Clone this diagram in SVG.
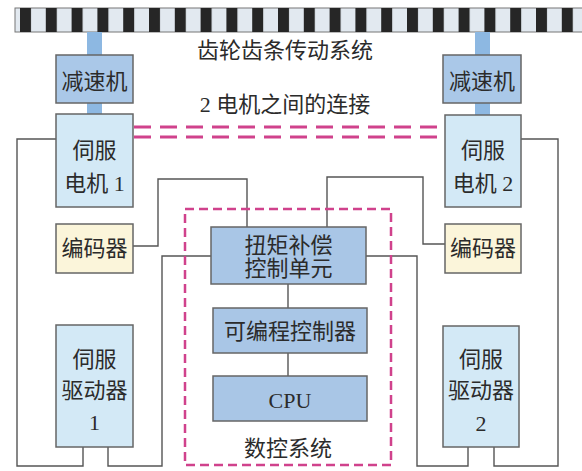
<svg xmlns="http://www.w3.org/2000/svg" width="582" height="471" viewBox="0 0 582 471">
<style>
  .t { font-family: "Liberation Serif", "Noto Sans CJK SC", serif; font-size: 22px; fill: #2b2b2b; text-anchor: middle; dominant-baseline: central; }
  .box { stroke: #666; stroke-width: 1.5; }
  .red { fill: #aac8e8; }
  .lt { fill: #d3e9f6; }
  .enc { fill: #fbf5da; }
  .nc { fill: #a9c6e6; }
  .shaft { fill: #8db8e2; }
  .w { fill: none; stroke: #555; stroke-width: 1.4; }
  .pk { fill: none; stroke: #d0428c; stroke-width: 3; stroke-dasharray: 17 9; }
  .pkb { fill: none; stroke: #d0428c; stroke-width: 2.5; stroke-dasharray: 9 5; }
</style>
<defs>
  <pattern id="teeth" patternUnits="userSpaceOnUse" x="20" y="8" width="25.8" height="24">
    <rect x="0" y="0" width="11" height="24" fill="#262626"/>
  </pattern>
</defs>
<rect width="582" height="471" fill="#ffffff"/>

<g id="rack">
  <rect x="15" y="8" width="570" height="24" fill="#e2e9f0" stroke="#777" stroke-width="1"/>
  <rect x="15" y="8" width="570" height="24" fill="url(#teeth)"/>
  <text class="t" x="285" y="50">齿轮齿条传动系统</text>
</g>

<g id="shafts">
  <rect class="shaft" x="87" y="32" width="15" height="24"/>
  <rect class="shaft" x="87" y="103" width="15" height="12"/>
  <rect class="shaft" x="475" y="32" width="15" height="24"/>
  <rect class="shaft" x="475" y="103" width="15" height="12"/>
</g>

<g id="connectors">
  <polyline class="w" points="56,139 17,139 17,466 83,466 83,447"/>
  <polyline class="w" points="108,447 108,466 162,466 162,256 211,256"/>
  <polyline class="w" points="133,246 158,246 158,179 247,179 247,227"/>
  <polyline class="w" points="327,227 327,177 423,177 423,244 445,244"/>
  <polyline class="w" points="521,139 558,139 558,466 494,466 494,447"/>
  <polyline class="w" points="468,447 468,466 417,466 417,256 366,256"/>
  <line class="w" x1="288" y1="284" x2="288" y2="308"/>
  <line class="w" x1="288" y1="353" x2="288" y2="376"/>
</g>

<g id="link">
  <line class="pk" x1="134" y1="127" x2="444" y2="127"/>
  <line class="pk" x1="134" y1="137" x2="444" y2="137"/>
  <text class="t" x="285" y="104">2 电机之间的连接</text>
</g>

<g id="nc-system">
  <rect class="pkb" x="185" y="209" width="206" height="256"/>
  <text class="t" x="288" y="448">数控系统</text>
</g>

<g id="reducer1">
  <rect class="box red" x="56" y="55" width="77" height="48"/>
  <text class="t" x="94.5" y="81">减速机</text>
</g>
<g id="reducer2">
  <rect class="box red" x="443" y="55" width="78" height="48"/>
  <text class="t" x="482" y="81">减速机</text>
</g>

<g id="motor1">
  <rect class="box lt" x="56" y="114" width="77" height="93"/>
  <text class="t" x="94.5" y="150">伺服</text>
  <text class="t" x="94.5" y="183">电机 1</text>
</g>
<g id="motor2">
  <rect class="box lt" x="445" y="115" width="76" height="92"/>
  <text class="t" x="483" y="150">伺服</text>
  <text class="t" x="483" y="183">电机 2</text>
</g>

<g id="encoder1">
  <rect class="box enc" x="56" y="224" width="77" height="49"/>
  <text class="t" x="94.5" y="248">编码器</text>
</g>
<g id="encoder2">
  <rect class="box enc" x="445" y="224" width="76" height="49"/>
  <text class="t" x="483" y="248">编码器</text>
</g>

<g id="driver1">
  <rect class="box lt" x="56" y="325" width="77" height="122"/>
  <text class="t" x="94.5" y="359">伺服</text>
  <text class="t" x="94.5" y="390">驱动器</text>
  <text class="t" x="94.5" y="422">1</text>
</g>
<g id="driver2">
  <rect class="box lt" x="443" y="326" width="76" height="121"/>
  <text class="t" x="481" y="359">伺服</text>
  <text class="t" x="481" y="390">驱动器</text>
  <text class="t" x="481" y="423">2</text>
</g>

<g id="torque-unit">
  <rect class="box nc" x="211" y="227" width="155" height="57"/>
  <text class="t" x="288.5" y="245">扭矩补偿</text>
  <text class="t" x="288.5" y="268">控制单元</text>
</g>

<g id="plc">
  <rect class="box nc" x="213" y="308" width="154" height="45"/>
  <text class="t" x="290" y="331">可编程控制器</text>
</g>

<g id="cpu">
  <rect class="box nc" x="213" y="376" width="154" height="45"/>
  <text class="t" x="290" y="400">CPU</text>
</g>
</svg>
